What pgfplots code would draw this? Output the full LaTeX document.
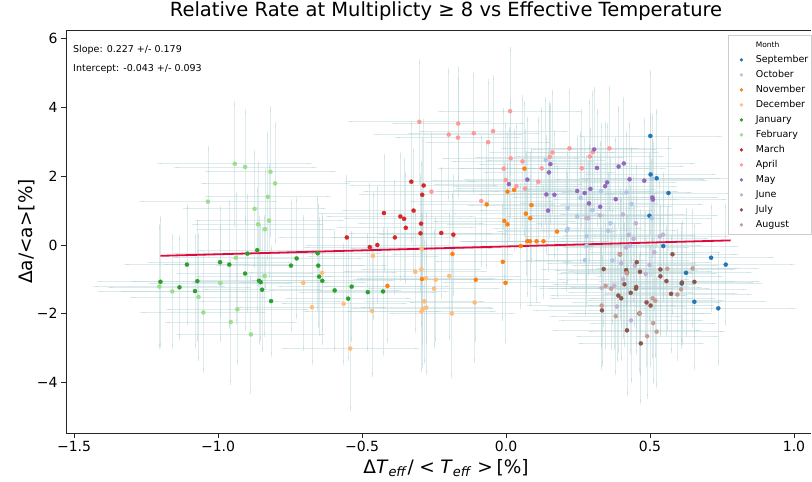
\documentclass[border=0pt]{standalone}
\usepackage{fontspec}
\setmainfont{DejaVu Sans}
\usepackage{pgfplots}
\usepackage{pgfplotstable}
\pgfplotsset{compat=1.18}

\definecolor{cSep}{HTML}{1F77B4}
\definecolor{cOct}{HTML}{AEC7E8}
\definecolor{cNov}{HTML}{FF7F0E}
\definecolor{cDec}{HTML}{FFBB78}
\definecolor{cJan}{HTML}{2CA02C}
\definecolor{cFeb}{HTML}{98DF8A}
\definecolor{cMar}{HTML}{D62728}
\definecolor{cApr}{HTML}{FF9896}
\definecolor{cMay}{HTML}{9467BD}
\definecolor{cJun}{HTML}{C5B0D5}
\definecolor{cJul}{HTML}{8C564B}
\definecolor{cAug}{HTML}{C49C94}
\definecolor{ebcol}{RGB}{175,208,210}
\definecolor{fitcol}{RGB}{225,10,60}

\pgfplotstableread{
x y ex ey
0.501 3.17 0.24 1.85
0.502 2.05 0.22 1.70
0.523 1.94 0.26 1.95
0.564 1.51 0.21 1.60
0.498 0.85 0.23 1.75
0.546 -0.03 0.25 1.55
0.625 -0.81 0.22 1.80
0.610 -1.12 0.27 1.65
0.654 -1.65 0.24 1.90
0.712 -0.37 0.21 1.50
0.763 -0.57 0.23 1.70
0.737 -1.84 0.26 1.60
}\tSep
\pgfplotstableread{
x y ex ey
0.138 2.47 0.20 1.75
0.214 1.07 0.22 1.60
0.247 0.83 0.24 1.85
0.211 0.42 0.21 1.70
0.214 0.47 0.25 1.55
0.508 1.93 0.23 1.80
0.506 0.78 0.20 1.65
0.330 1.57 0.26 1.90
0.418 1.53 0.22 1.70
0.436 1.19 0.24 1.60
0.300 1.01 0.21 1.75
0.362 0.63 0.25 1.85
0.355 0.41 0.23 1.65
0.280 -0.02 0.22 1.70
0.369 -0.45 0.26 1.80
0.274 -0.44 0.20 1.55
0.431 -0.02 0.24 1.70
0.259 1.38 0.23 1.85
0.280 0.26 0.21 1.60
}\tOct
\pgfplotstableread{
x y ex ey
-0.186 -0.26 0.20 1.70
-0.292 -0.99 0.23 1.85
-0.412 -1.19 0.21 1.60
-0.105 -1.01 0.25 1.75
0.064 2.22 0.22 1.90
0.005 1.55 0.24 1.65
0.028 1.60 0.20 1.70
-0.067 1.18 0.23 1.80
0.088 1.16 0.21 1.60
0.069 0.91 0.25 1.75
0.084 0.78 0.22 1.85
-0.006 0.70 0.24 1.65
0.005 0.60 0.20 1.70
0.074 0.11 0.23 1.55
0.083 0.11 0.21 1.80
0.106 0.11 0.25 1.70
0.130 0.11 0.22 1.60
0.051 -0.03 0.24 1.75
0.177 0.39 0.20 1.85
-0.011 -0.49 0.23 1.65
-0.002 -1.10 0.21 1.70
}\tNov
\pgfplotstableread{
x y ex ey
-0.462 -0.32 0.22 1.80
-0.639 -0.81 0.25 1.65
-0.704 -1.10 0.21 1.90
-0.315 -0.78 0.24 1.70
-0.294 -0.71 0.20 1.60
-0.278 -0.97 0.23 1.85
-0.244 -1.01 0.26 1.75
-0.250 -1.27 0.22 1.65
-0.197 -0.90 0.24 1.80
-0.564 -1.71 0.21 1.70
-0.674 -1.81 0.25 1.60
-0.465 -1.92 0.23 1.85
-0.284 -1.64 0.20 1.75
-0.289 -1.85 0.24 1.65
-0.277 -1.82 0.22 1.90
-0.294 -1.93 0.25 1.70
-0.188 -1.99 0.21 1.80
-0.541 -3.01 0.23 1.75
-0.293 -0.11 0.24 1.60
-0.109 -1.67 0.22 1.70
}\tDec
\pgfplotstableread{
x y ex ey
-1.108 -0.57 0.21 1.70
-0.993 -0.50 0.24 1.55
-0.961 -0.57 0.22 1.80
-0.898 -0.25 0.25 1.65
-0.864 -0.15 0.20 1.75
-0.906 -0.83 0.23 1.60
-1.200 -1.07 0.21 1.85
-1.134 -1.23 0.24 1.45
-1.072 -1.05 0.22 1.70
-1.080 -1.34 0.25 1.60
-0.858 -1.04 0.21 1.80
-0.852 -1.08 0.23 1.65
-0.847 -1.30 0.20 1.75
-0.816 -1.63 0.24 1.55
-0.727 -0.39 0.22 1.70
-0.747 -0.60 0.25 1.85
-0.654 -0.24 0.21 1.60
-0.652 -0.60 0.23 1.75
-0.649 -0.92 0.20 1.65
-0.638 -1.04 0.24 1.80
-0.595 -1.32 0.22 1.70
-0.536 -1.21 0.25 1.55
-0.548 -1.56 0.21 1.75
-0.480 -1.37 0.23 1.65
-0.427 -1.35 0.22 1.80
}\tJan
\pgfplotstableread{
x y ex ey
-0.942 2.36 0.26 1.75
-0.906 2.27 0.24 1.60
-0.818 2.13 0.22 1.85
-0.802 1.79 0.25 1.70
-1.035 1.26 0.23 1.55
-0.827 1.40 0.21 1.80
-0.873 1.05 0.24 1.65
-0.861 0.60 0.22 1.75
-0.823 0.71 0.25 1.60
-0.837 0.46 0.23 1.70
-0.938 -0.37 0.21 1.85
-0.992 -1.11 0.24 1.65
-1.204 -1.21 0.22 1.75
-1.159 -1.35 0.25 1.60
-1.068 -1.51 0.23 1.80
-1.051 -1.96 0.21 1.70
-0.933 -1.87 0.24 1.55
-0.956 -2.24 0.22 1.75
-0.886 -2.60 0.25 1.65
-0.838 -0.90 0.23 1.70
}\tFeb
\pgfplotstableread{
x y ex ey
-0.329 1.84 0.22 1.70
-0.286 1.73 0.25 1.85
-0.291 1.46 0.21 1.60
-0.321 1.00 0.24 1.75
-0.424 0.93 0.22 1.65
-0.367 0.83 0.25 1.80
-0.354 0.76 0.20 1.70
-0.348 0.50 0.23 1.55
-0.295 0.62 0.21 1.75
-0.297 0.34 0.24 1.65
-0.225 0.35 0.22 1.85
-0.183 0.30 0.25 1.70
-0.386 0.22 0.21 1.60
-0.553 0.22 0.23 1.75
-0.447 0.00 0.24 1.65
-0.473 -0.06 0.22 1.80
}\tMar
\pgfplotstableread{
x y ex ey
-0.301 3.58 0.24 1.75
-0.166 3.53 0.22 1.60
-0.199 3.21 0.25 1.85
-0.167 3.12 0.21 1.70
-0.259 1.55 0.23 1.65
0.014 3.89 0.24 1.80
-0.112 3.25 0.22 1.70
-0.045 3.31 0.25 1.55
-0.062 2.99 0.21 1.75
0.016 2.52 0.23 1.65
0.057 2.43 0.24 1.85
-0.008 2.22 0.22 1.70
-0.001 1.89 0.25 1.60
0.036 1.71 0.21 1.75
0.066 1.64 0.23 1.65
0.112 1.84 0.24 1.80
0.124 2.23 0.22 1.70
0.152 2.56 0.25 1.55
0.161 2.69 0.21 1.75
0.220 2.81 0.23 1.65
-0.086 1.28 0.24 1.85
0.301 2.70 0.22 1.70
0.291 2.57 0.25 1.60
0.359 2.81 0.21 1.75
0.263 2.23 0.23 1.65
}\tApr
\pgfplotstableread{
x y ex ey
0.154 2.35 0.24 1.70
0.149 2.11 0.22 1.85
0.010 1.77 0.25 1.60
0.074 1.90 0.21 1.75
0.140 1.47 0.23 1.65
0.168 1.46 0.24 1.80
0.146 1.00 0.22 1.70
0.247 1.57 0.25 1.55
0.306 2.78 0.21 1.75
0.316 2.24 0.23 1.65
0.409 2.37 0.24 1.85
0.391 2.28 0.22 1.70
0.429 1.91 0.25 1.60
0.480 1.87 0.21 1.75
0.351 1.82 0.23 1.65
0.344 1.71 0.24 1.80
0.293 1.63 0.22 1.70
0.273 1.51 0.25 1.55
0.381 1.33 0.21 1.75
0.288 1.21 0.23 1.65
0.327 1.11 0.24 1.85
0.508 1.38 0.22 1.70
0.510 1.32 0.25 1.60
}\tMay
\pgfplotstableread{
x y ex ey
0.279 0.78 0.22 1.75
0.286 0.78 0.25 1.60
0.406 0.89 0.21 1.85
0.327 0.86 0.24 1.70
0.426 0.29 0.22 1.65
0.443 0.18 0.25 1.80
0.417 -0.07 0.21 1.70
0.534 0.25 0.23 1.55
0.545 0.30 0.24 1.75
0.515 -0.21 0.22 1.65
0.400 -0.53 0.25 1.85
0.447 -0.60 0.21 1.70
0.498 -0.58 0.23 1.60
0.485 -0.84 0.24 1.75
0.407 -1.00 0.22 1.65
0.376 -1.19 0.25 1.80
0.332 -1.25 0.21 1.70
0.385 -1.79 0.23 1.55
0.434 -2.19 0.24 1.75
0.451 0.63 0.22 1.65
}\tJun
\pgfplotstableread{
x y ex ey
0.578 -0.27 0.22 1.70
0.454 -0.50 0.25 1.85
0.339 -0.70 0.21 1.60
0.417 -0.73 0.24 1.75
0.420 -0.81 0.22 1.65
0.536 -0.71 0.25 1.80
0.536 -0.91 0.21 1.70
0.557 -1.05 0.23 1.55
0.411 -1.14 0.24 1.75
0.452 -1.22 0.22 1.65
0.451 -1.27 0.25 1.85
0.433 -1.39 0.21 1.70
0.390 -1.47 0.23 1.60
0.400 -1.55 0.24 1.75
0.573 -1.42 0.22 1.65
0.488 -1.67 0.25 1.80
0.502 -1.76 0.21 1.70
0.333 -1.90 0.23 1.55
0.611 -1.09 0.24 1.75
0.654 -1.07 0.22 1.65
0.420 -2.48 0.25 1.85
0.468 -2.86 0.21 1.70
0.396 -0.27 0.23 1.60
0.465 -0.78 0.24 1.75
0.463 -1.99 0.22 1.65
}\tJul
\pgfplotstableread{
x y ex ey
0.346 -1.19 0.25 1.80
0.365 -1.27 0.21 1.70
0.419 -0.82 0.23 1.55
0.560 -0.69 0.24 1.75
0.608 -1.29 0.22 1.65
0.595 -1.44 0.25 1.85
0.509 -1.55 0.21 1.70
0.518 -1.62 0.23 1.60
0.465 -1.99 0.24 1.75
0.381 -2.07 0.22 1.65
0.332 -1.76 0.25 1.80
0.511 -2.27 0.21 1.70
0.523 -2.52 0.23 1.55
0.490 -2.65 0.24 1.75
0.648 -0.68 0.22 1.65
0.396 -0.27 0.25 1.85
}\tAug

\pgfplotsset{
  ebars/.style={forget plot, only marks, mark=*, mark options={draw opacity=0, fill opacity=0},
    error bars/.cd, x dir=both, x explicit, y dir=both, y explicit,
    error bar style={draw=ebcol, draw opacity=0.42, line width=0.8pt},
    error mark options={draw=ebcol, draw opacity=0.42, fill opacity=0, line width=0.8pt, mark size=2.5pt}},
  pts/.style={only marks, mark=*, mark size=2.1pt, color=#1, mark options={solid, draw=#1, fill=#1, line width=0.2pt}},
}

\begin{document}
\begin{tikzpicture}
\begin{axis}[
  name=ax,
  scale only axis, width=745pt, height=403pt,
  xmin=-1.528, xmax=1.059, ymin=-5.465, ymax=6.25,
  axis x line*=box, axis y line*=left,
  xtick={-1.5,-1.0,-0.5,0.0,0.5,1.0},
  xticklabels={−1.5,−1.0,−0.5,0.0,0.5,1.0},
  ytick={-4,-2,0,2,4,6},
  yticklabels={−4,−2,0,2,4,6},
  xtick pos=lower, ytick pos=left,
  tick align=outside, major tick length=5pt,
  tick style={black!85, line width=0.8pt},
  axis line style={black!85, line width=0.8pt, -},
  tick label style={font=\fontsize{14}{16}\selectfont},
  title={Relative Rate at Multiplicty ≥ 8 vs Effective Temperature},
  title style={font=\fontsize{19.5}{22}\selectfont, inner sep=0pt, yshift=3pt, xshift=7.5pt},
  xlabel={Δ\textit{T}\textsubscript{\textit{eff}}/\hspace{0.3em}<\hspace{0.3em}\textit{T}\textsubscript{\textit{eff}}\hspace{0.3em}>\hspace{0.2em}[\%]},
  ylabel={Δa/<a>[\%]},
  xlabel style={xshift=7.5pt},
  ylabel shift=-5pt,
  label style={font=\fontsize{18.5}{20}\selectfont},
  legend style={at={(axis description cs:0.8886,0.9876)}, anchor=north west,
    font=\fontsize{9.5}{11}\selectfont, draw=black!20,
    fill=white,
    row sep=3.6pt, inner xsep=2pt, inner ysep=4pt,
    nodes={inner sep=1.2pt, text height=7pt, text depth=2pt}},
  legend cell align=left,
  legend image code/.code={\path (0pt,0pt) (24pt,0pt); \draw[mark repeat=2, mark phase=2, mark size=1.6pt, #1] plot coordinates {(0pt,0pt) (11pt,0pt) (22pt,0pt)};},
]
\addplot[ebars] table[x=x, y=y, x error=ex, y error=ey] \tSep;
\addplot[ebars] table[x=x, y=y, x error=ex, y error=ey] \tOct;
\addplot[ebars] table[x=x, y=y, x error=ex, y error=ey] \tNov;
\addplot[ebars] table[x=x, y=y, x error=ex, y error=ey] \tDec;
\addplot[ebars] table[x=x, y=y, x error=ex, y error=ey] \tJan;
\addplot[ebars] table[x=x, y=y, x error=ex, y error=ey] \tFeb;
\addplot[ebars] table[x=x, y=y, x error=ex, y error=ey] \tMar;
\addplot[ebars] table[x=x, y=y, x error=ex, y error=ey] \tApr;
\addplot[ebars] table[x=x, y=y, x error=ex, y error=ey] \tMay;
\addplot[ebars] table[x=x, y=y, x error=ex, y error=ey] \tJun;
\addplot[ebars] table[x=x, y=y, x error=ex, y error=ey] \tJul;
\addplot[ebars] table[x=x, y=y, x error=ex, y error=ey] \tAug;

\addplot[forget plot, fitcol, line width=1.8pt] coordinates {(-1.2,-0.315) (0.78,0.134)};

\addlegendimage{empty legend}
\addlegendentry{\fontsize{7.5}{9}\selectfont Month}
\addplot[pts=cSep] table[x=x,y=y] \tSep; \addlegendentry{September}
\addplot[pts=cOct] table[x=x,y=y] \tOct; \addlegendentry{October}
\addplot[pts=cNov] table[x=x,y=y] \tNov; \addlegendentry{November}
\addplot[pts=cDec] table[x=x,y=y] \tDec; \addlegendentry{December}
\addplot[pts=cJan] table[x=x,y=y] \tJan; \addlegendentry{January}
\addplot[pts=cFeb] table[x=x,y=y] \tFeb; \addlegendentry{February}
\addplot[pts=cMar] table[x=x,y=y] \tMar; \addlegendentry{March}
\addplot[pts=cApr] table[x=x,y=y] \tApr; \addlegendentry{April}
\addplot[pts=cMay] table[x=x,y=y] \tMay; \addlegendentry{May}
\addplot[pts=cJun] table[x=x,y=y] \tJun; \addlegendentry{June}
\addplot[pts=cJul] table[x=x,y=y] \tJul; \addlegendentry{July}
\addplot[pts=cAug] table[x=x,y=y] \tAug; \addlegendentry{August}

\node[anchor=base west, inner sep=0pt, font=\fontsize{9.5}{11}\selectfont] at (axis description cs:0.0094,0.945) {Slope: 0.227 +/- 0.179};
\node[anchor=base west, inner sep=0pt, font=\fontsize{9.5}{11}\selectfont] at (axis description cs:0.0094,0.898) {Intercept: -0.043 +/- 0.093};
\end{axis}
\path (ax.south west) ++(-66pt,-49pt) rectangle ++(812pt,482pt);
\end{tikzpicture}
\end{document}
